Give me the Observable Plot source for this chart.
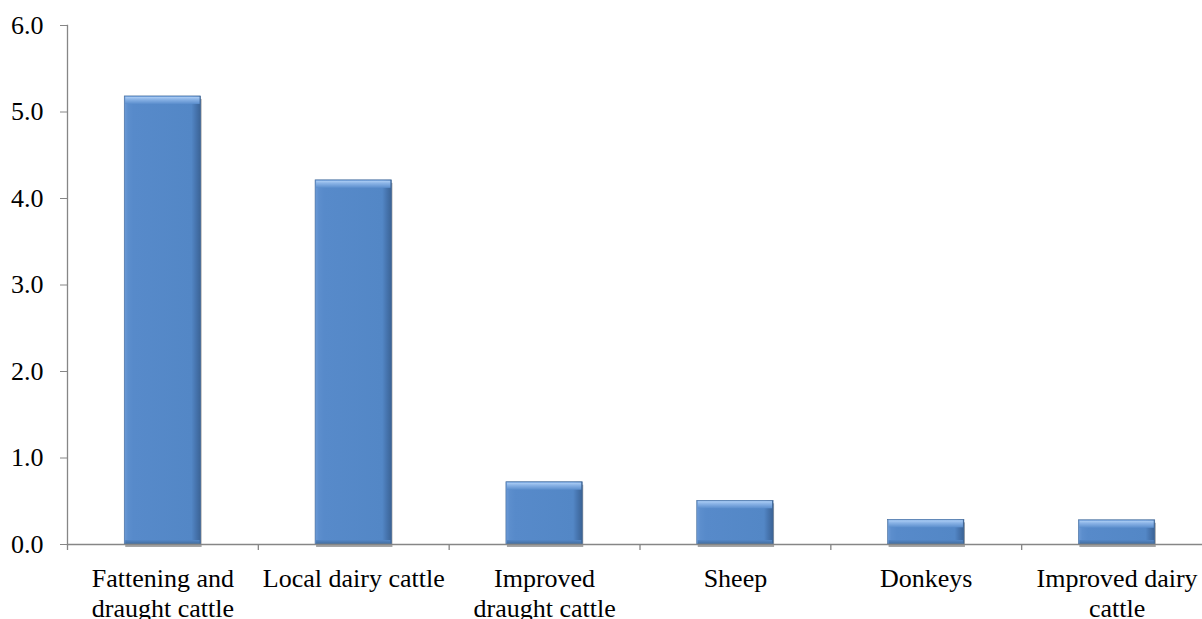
<!DOCTYPE html>
<html>
<head>
<meta charset="utf-8">
<script src="https://cdn.jsdelivr.net/npm/d3@7"></script>
<script src="https://cdn.jsdelivr.net/npm/@observablehq/plot@0.6"></script>
<style>
  html, body { margin: 0; padding: 0; background: #fff; }
  #chart { width: 1202px; height: 619px; overflow: hidden; }
</style>
</head>
<body>
<div id="chart"></div>
<script>
// ---- data ----
const categories = [
  "Fattening and draught cattle",
  "Local dairy cattle",
  "Improved draught cattle",
  "Sheep",
  "Donkeys",
  "Improved dairy cattle"
];
const values = [5.18, 4.21, 0.72, 0.505, 0.285, 0.28];
const tickLabels = [
  "Fattening and\ndraught cattle",
  "Local dairy cattle",
  "Improved\ndraught cattle",
  "Sheep",
  "Donkeys",
  "Improved dairy\ncattle"
];
const yTicks = [0, 1, 2, 3, 4, 5, 6];

const data = categories.map((c, i) => ({category: c, value: values[i]}));
const labelOf = new Map(categories.map((c, i) => [c, tickLabels[i]]));

// ---- layout ----
const W = 1202, H = 619;
const xRange = [67, 1212];
const padIn = 0.6, padOut = 0.3;
const step = (xRange[1] - xRange[0]) / (categories.length - padIn + 2 * padOut);
const axisColor = "#868686";

const chart = Plot.plot({
  width: W,
  height: H,
  marginLeft: 67,
  marginRight: 0,
  marginTop: 25,
  marginBottom: 75,
  style: {fontFamily: "'Liberation Serif', 'Times New Roman', serif", fontSize: "26px", color: "#000", background: "#fff"},
  x: {type: "band", domain: categories, range: xRange, paddingInner: padIn, paddingOuter: padOut, round: false},
  y: {domain: [0, 6]},
  marks: [
    // shadow
    Plot.barY(data, {x: "category", y: "value", fill: "#000", fillOpacity: 0.35, dx: 1, dy: 3, ariaLabel: "shadow"}),
    // main bar body
    Plot.barY(data, {x: "category", y: "value", fill: "url(#barBody)", stroke: "#3f6797", strokeWidth: 0.6}),
    // top bevel
    Plot.barY(data, {x: "category", y1: "value", y2: "value", insetTop: 0.5, insetBottom: -8, insetLeft: 1, insetRight: 1, fill: "url(#barTop)"}),
    // bottom bevel
    Plot.barY(data, {x: "category", y1: 0, y2: 0, insetTop: -4, insetLeft: 1, insetRight: 1, fill: "url(#barBottom)"}),
    // y axis
    Plot.axisY({ticks: yTicks, tickFormat: ".1f", tickSize: 7, tickPadding: 17, stroke: axisColor, fill: "#000", label: null}),
    Plot.frame({anchor: "left", stroke: axisColor, strokeWidth: 1.3}),
    Plot.ruleX([0], {x: () => categories[0], dx: -step / 2, y1: 0, y2: 0, insetBottom: -6, stroke: axisColor, strokeWidth: 1.3}),
    // x axis line
    Plot.ruleY([0], {stroke: axisColor, strokeWidth: 1.3}),
    // category boundary ticks
    Plot.ruleX(categories.slice(1), {x: d => d, dx: -step / 2, y1: 0, y2: 0, insetBottom: -6, stroke: axisColor, strokeWidth: 1.3}),
    // x labels
    Plot.axisX({tickSize: 0, tickPadding: 22, tickFormat: d => labelOf.get(d), lineHeight: 1.13, fill: "#000", label: null})
  ]
});

// gradients & filter
const svgSel = d3.select(chart);
const defs = svgSel.insert("defs", ":first-child");
const gBody = defs.append("linearGradient").attr("id", "barBody").attr("x1", 0).attr("x2", 1).attr("y1", 0).attr("y2", 0);
[[0, "#6c9ad6"], [0.05, "#5c8ecd"], [0.12, "#578aca"], [0.88, "#5387c6"], [0.93, "#4877b2"], [1, "#3b6395"]]
  .forEach(([o, c]) => gBody.append("stop").attr("offset", o).attr("stop-color", c));
const gTop = defs.append("linearGradient").attr("id", "barTop").attr("x1", 0).attr("x2", 0).attr("y1", 0).attr("y2", 1);
[[0, "#7aa6de"], [0.12, "#a6c9f2"], [0.4, "#8ab3e6"], [1, "#5b8ecd"]]
  .forEach(([o, c]) => gTop.append("stop").attr("offset", o).attr("stop-color", c));
const gBot = defs.append("linearGradient").attr("id", "barBottom").attr("x1", 0).attr("x2", 0).attr("y1", 0).attr("y2", 1);
[[0, "#5587c6"], [1, "#426d9d"]]
  .forEach(([o, c]) => gBot.append("stop").attr("offset", o).attr("stop-color", c));
const blur = defs.append("filter").attr("id", "blur").attr("x", "-20%").attr("y", "-20%").attr("width", "140%").attr("height", "140%");
blur.append("feGaussianBlur").attr("stdDeviation", 2);
svgSel.select("g[aria-label=shadow]").attr("filter", "url(#blur)");

document.getElementById("chart").appendChild(chart);
</script>
</body>
</html>
